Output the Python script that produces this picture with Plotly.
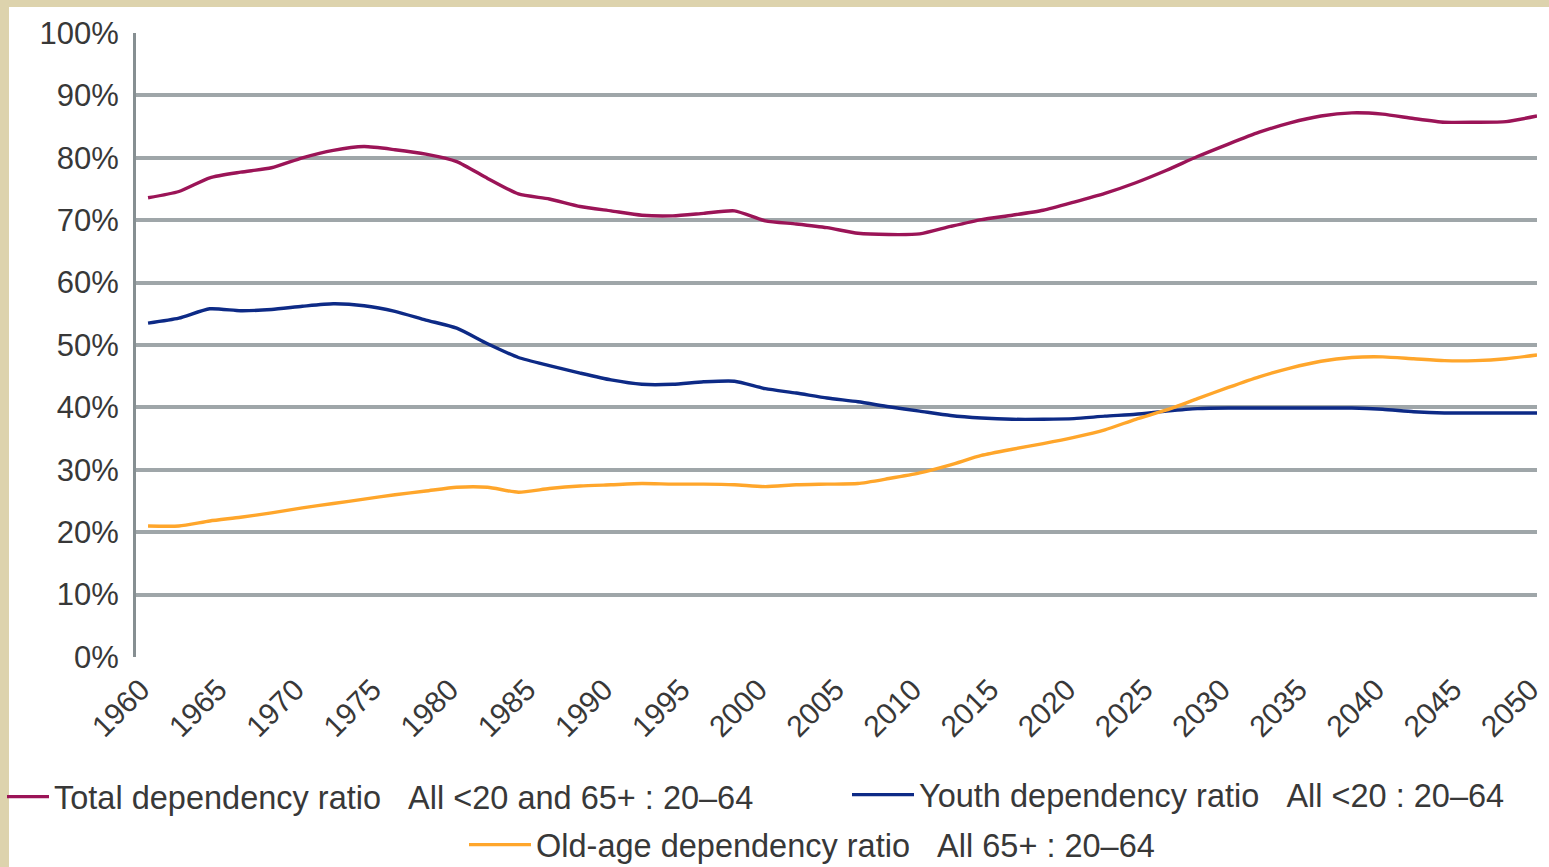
import plotly.graph_objects as go

years = list(range(1960, 2051, 2))

total = [73.6, 74.6, 76.8, 77.7, 78.4, 80.0, 81.2, 81.8, 81.3, 80.6,
         79.4, 76.7, 74.2, 73.4, 72.2, 71.5, 70.8, 70.7, 71.1, 71.5,
         69.9, 69.4, 68.8, 67.9, 67.7, 67.8, 69.0, 70.1, 70.8, 71.6,
         72.9, 74.3, 76.0, 78.0, 80.2, 82.2, 84.1, 85.6, 86.7, 87.2,
         87.0, 86.3, 85.7, 85.7, 85.8, 86.7]

youth = [53.5, 54.3, 55.8, 55.5, 55.7, 56.2, 56.6, 56.3, 55.4, 54.0,
         52.7, 50.2, 48.0, 46.7, 45.5, 44.4, 43.7, 43.7, 44.1, 44.2,
         43.0, 42.3, 41.5, 40.9, 40.1, 39.4, 38.7, 38.3, 38.1, 38.1,
         38.2, 38.6, 38.9, 39.4, 39.8, 39.9, 39.9, 39.9, 39.9, 39.9,
         39.7, 39.3, 39.1, 39.1, 39.1, 39.1]

old_age = [21.0, 21.0, 21.8, 22.4, 23.1, 23.9, 24.6, 25.3, 26.0, 26.6,
           27.2, 27.2, 26.4, 27.0, 27.4, 27.6, 27.8, 27.7, 27.7, 27.6,
           27.3, 27.6, 27.7, 27.8, 28.6, 29.5, 30.8, 32.3, 33.3, 34.2,
           35.2, 36.4, 38.1, 39.6, 41.4, 43.2, 44.9, 46.3, 47.4, 48.0,
           48.1, 47.8, 47.5, 47.5, 47.8, 48.4]

tick_years = list(range(1960, 2051, 5))
y_ticks = list(range(0, 101, 10))
y_tick_labels = [f"{v}%" for v in y_ticks]

NB = "\u00a0"
names = [
    "Total dependency ratio" + NB * 3 + "All &lt;20 and 65+ : 20–64",
    "Youth dependency ratio" + NB * 3 + "All &lt;20 : 20–64",
    "Old-age dependency ratio" + NB * 3 + "All 65+ : 20–64",
]
colors = ["#9b1457", "#0d2a86", "#ffa62b"]
series = [total, youth, old_age]
legends = ["legend", "legend2", "legend3"]

fig = go.Figure()
for nm, col, vals, lg in zip(names, colors, series, legends):
    fig.add_trace(go.Scatter(
        x=years, y=vals, mode="lines", name=nm,
        line=dict(color=col, width=3.4, shape="spline", smoothing=0.6),
        legend=lg, showlegend=True,
    ))

W, H = 1549, 867
L, R, T, B = 136, 12, 33, 210
pw, ph = W - L - R, H - T - B

font_family = "Liberation Sans, Arial, sans-serif"
txt_col = "#383838"

def px_x(p):
    return (p - L) / pw

def px_y(p):
    return (H - B - p) / ph

beige = "#ddd3ad"
leg_font = dict(size=32.5, color=txt_col)

fig.update_layout(
    width=W, height=H,
    margin=dict(l=L, r=R, t=T, b=B, autoexpand=False),
    paper_bgcolor="white",
    plot_bgcolor="white",
    font=dict(family=font_family, size=31, color=txt_col),
    xaxis=dict(
        range=[1959.22, 2050], tickvals=tick_years, tickangle=-45,
        showgrid=False, zeroline=False, showline=False, automargin=False,
        ticks="outside", ticklen=2, tickcolor="rgba(0,0,0,0)",
        ticklabeloverflow="allow", ticklabelshift=-7,
        tickfont=dict(size=30, color=txt_col),
    ),
    yaxis=dict(
        range=[0, 100], tickvals=y_ticks, ticktext=y_tick_labels,
        showgrid=True, gridcolor="#9fa6a9", gridwidth=3.5, automargin=False,
        zeroline=False, showline=True, linecolor="#868f92", linewidth=3,
        ticks="outside", ticklen=8, tickcolor="rgba(0,0,0,0)",
        tickfont=dict(size=31, color=txt_col),
    ),
    legend=dict(x=px_x(2), y=px_y(797), xanchor="left", yanchor="middle",
                itemwidth=42, bgcolor="rgba(0,0,0,0)", font=leg_font),
    legend2=dict(x=px_x(847), y=px_y(795), xanchor="left", yanchor="middle",
                 itemwidth=62, bgcolor="rgba(0,0,0,0)", font=leg_font),
    legend3=dict(x=px_x(464), y=px_y(845), xanchor="left", yanchor="middle",
                 itemwidth=62, bgcolor="rgba(0,0,0,0)", font=leg_font),
    shapes=[
        dict(type="rect", xref="paper", yref="paper", layer="below",
             x0=px_x(0), x1=px_x(9), y0=px_y(H), y1=px_y(0),
             fillcolor=beige, line=dict(width=0)),
        dict(type="rect", xref="paper", yref="paper", layer="below",
             x0=px_x(0), x1=px_x(W), y0=px_y(7), y1=px_y(0),
             fillcolor=beige, line=dict(width=0)),
    ],
)

fig.write_html(
    "out.html",
    config={"displayModeBar": False},
    post_script="document.body.style.margin='0px';document.body.style.overflow='hidden';",
)
